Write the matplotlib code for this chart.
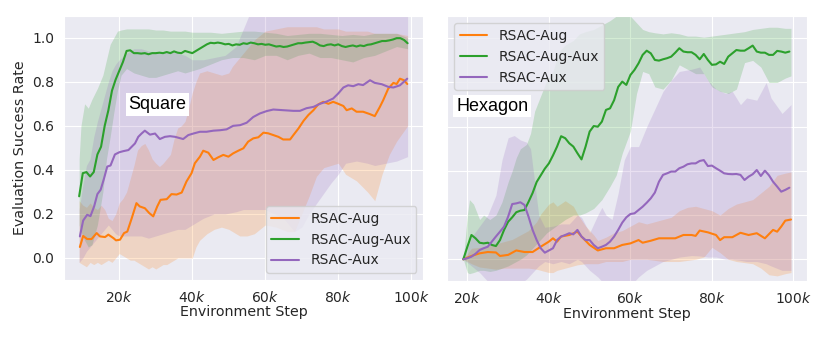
import matplotlib
matplotlib.use("Agg")
import matplotlib.pyplot as plt
import seaborn as sns
from matplotlib.ticker import FuncFormatter, FixedLocator

sns.set_style("darkgrid")
plt.rcParams['font.family'] = ['DejaVu Sans']

labels = ["RSAC-Aug", "RSAC-Aug-Aux", "RSAC-Aux"]
colors = ["#ff7f0e", "#2ca02c", "#9467bd"]
x_ticks = [20, 40, 60, 80, 100]
y_ticks = [0.0, 0.2, 0.4, 0.6, 0.8, 1.0]

# ---------------- Square (left) ----------------
sq_aug_x = [9.2, 10.1, 11.2, 12.4, 13.8, 14.7, 16.1, 17, 18.4, 19.1, 20.2, 21.3, 22.2, 23.4, 24.7, 25.6,
            27, 28.2, 29.3, 30.4, 31.3, 33, 34.3, 35.7, 37.1, 38.4, 39.8, 40.7, 42.1, 43, 44.4, 45.8,
            47.1, 48.5, 49.9, 51.2, 52.6, 54, 55.3, 56.7, 58.1, 59.5, 60.8, 62.2, 63.6, 64.9, 66.8,
            67.7, 69.1, 70.5, 71.8, 73.2, 74.5, 75.9, 77.3, 78.6, 80, 81.4, 82.3, 83.7, 85, 86.8,
            88.7, 90, 91.4, 92.3, 93.7, 95.1, 96, 96.9, 98, 98.9]
sq_aug_y = [0.05, 0.10, 0.086, 0.086, 0.113, 0.098, 0.095, 0.106, 0.09, 0.08, 0.083, 0.113, 0.12, 0.18,
            0.249, 0.234, 0.226, 0.204, 0.189, 0.234, 0.264, 0.267, 0.29, 0.288, 0.297, 0.347, 0.385,
            0.43, 0.46, 0.487, 0.478, 0.445, 0.457, 0.468, 0.46, 0.475, 0.487, 0.498, 0.528, 0.543,
            0.548, 0.569, 0.566, 0.558, 0.55, 0.538, 0.538, 0.558, 0.588, 0.623, 0.649, 0.671, 0.697,
            0.709, 0.70, 0.709, 0.70, 0.69, 0.671, 0.679, 0.664, 0.664, 0.653, 0.644, 0.686, 0.716,
            0.769, 0.795, 0.79, 0.814, 0.807, 0.79]

sq_augaux_x = list(range(9, 100))
sq_augaux_y = [0.28, 0.385, 0.39, 0.37, 0.39, 0.47, 0.505, 0.60, 0.67, 0.76, 0.81, 0.85, 0.89, 0.94,
               0.943, 0.93, 0.93, 0.928, 0.93, 0.925, 0.93, 0.93, 0.932, 0.93, 0.935, 0.93, 0.938,
               0.932, 0.93, 0.94, 0.935, 0.93, 0.94, 0.95, 0.96, 0.97, 0.977, 0.975, 0.978, 0.975,
               0.97, 0.972, 0.965, 0.97, 0.968, 0.975, 0.972, 0.978, 0.975, 0.97, 0.972, 0.968, 0.97,
               0.965, 0.96, 0.962, 0.958, 0.96, 0.965, 0.97, 0.975, 0.975, 0.978, 0.98, 0.982, 0.975,
               0.965, 0.962, 0.968, 0.97, 0.965, 0.97, 0.962, 0.958, 0.962, 0.965, 0.96, 0.965,
               0.962, 0.968, 0.97, 0.975, 0.98, 0.985, 0.985, 0.988, 0.992, 0.998, 0.998, 0.99, 0.975]

sq_aux_x = [9.2, 10.1, 11.2, 12.1, 13.1, 14, 14.9, 15.8, 16.7, 17.6, 18.8, 20, 21.1, 22.5, 23.4, 24.3,
            25.2, 26.1, 27, 28.4, 29.8, 31.1, 32.5, 33.9, 35.3, 37.5, 38.9, 40.3, 42.1, 43.9, 45.8,
            47.6, 49.4, 51.2, 53.1, 54.9, 56.7, 58.5, 60.4, 62.2, 64.9, 67.7, 69.5, 71.3, 73.2, 75,
            76.8, 78.6, 80, 81.4, 82.7, 84.1, 85.5, 86.8, 88.7, 90, 91.9, 93.7, 95.1, 96.9, 98.9]
sq_aux_y = [0.098, 0.17, 0.196, 0.19, 0.234, 0.29, 0.31, 0.36, 0.415, 0.42, 0.47, 0.48, 0.485, 0.49,
            0.505, 0.52, 0.55, 0.565, 0.578, 0.56, 0.565, 0.54, 0.55, 0.553, 0.55, 0.54, 0.558, 0.565,
            0.573, 0.573, 0.578, 0.58, 0.584, 0.6, 0.603, 0.614, 0.64, 0.656, 0.667, 0.674, 0.671,
            0.668, 0.668, 0.68, 0.686, 0.70, 0.71, 0.724, 0.747, 0.774, 0.784, 0.78, 0.789, 0.785,
            0.807, 0.795, 0.789, 0.777, 0.774, 0.784, 0.814]

# bands (x, lower, upper)
sq_aug_bx = [9, 10, 11, 12, 13, 14, 15, 16, 17, 18, 19, 20, 21, 22, 23, 24, 25, 26, 27, 28, 29, 30, 31,
             32, 33, 34, 35, 36, 37, 38, 39, 40, 41, 42, 44, 46, 48, 50, 51, 53, 55, 57, 60, 63, 66,
             68, 70, 72, 74, 76, 78, 80, 82, 85, 88, 90, 92, 94, 96, 99]
sq_aug_lo = [-0.02, -0.03, -0.04, -0.02, -0.03, -0.02, -0.03, -0.02, -0.01, -0.02, 0.0, 0.02, 0.01, 0.0,
             -0.01, -0.01, -0.02, -0.03, -0.04, -0.05, -0.04, -0.05, -0.04, -0.03, -0.03, -0.02,
             -0.01, 0.0, 0.0, 0.0, 0.0, 0.0, 0.05, 0.08, 0.11, 0.13, 0.14, 0.13, 0.12, 0.10, 0.10,
             0.11, 0.15, 0.14, 0.12, 0.12, 0.2, 0.28, 0.37, 0.41, 0.42, 0.43, 0.38, 0.35, 0.30, 0.26,
             0.38, 0.47, 0.53, 0.60]
sq_aug_hi = [0.26, 0.24, 0.23, 0.25, 0.23, 0.22, 0.24, 0.22, 0.18, 0.17, 0.2, 0.25, 0.27, 0.3, 0.36,
             0.42, 0.49, 0.51, 0.52, 0.49, 0.45, 0.43, 0.415, 0.43, 0.45, 0.47, 0.54, 0.59, 0.6,
             0.62, 0.68, 0.75, 0.8, 0.84, 0.85, 0.84, 0.83, 0.84, 0.87, 0.91, 0.95, 0.99, 1.03, 1.04,
             1.05, 1.05, 1.05, 1.05, 1.05, 1.04, 1.04, 1.04, 1.03, 1.03, 1.03, 1.02, 1.02, 1.02,
             1.02, 1.01]

sq_augaux_bx = [9, 9.5, 10.5, 11.5, 12.5, 14, 15.5, 16.5, 17.5, 18.5, 19.5, 20.5, 22, 24, 26, 28, 30,
                32, 34, 36, 38, 40, 42, 45, 48, 51, 54, 57, 60, 63, 66, 69, 72, 75, 78, 81, 84, 87,
                90, 93, 96, 99]
sq_augaux_lo = [0.15, 0.12, 0.08, 0.05, 0.06, 0.15, 0.3, 0.45, 0.55, 0.66, 0.76, 0.83, 0.86, 0.84,
                0.83, 0.82, 0.82, 0.83, 0.84, 0.85, 0.84, 0.85, 0.86, 0.88, 0.90, 0.91, 0.91, 0.90,
                0.92, 0.92, 0.90, 0.92, 0.93, 0.91, 0.91, 0.90, 0.89, 0.91, 0.92, 0.94, 0.96, 0.95]
sq_augaux_hi = [0.45, 0.6, 0.7, 0.68, 0.72, 0.77, 0.83, 0.9, 0.97, 1.0, 1.03, 1.035, 1.04, 1.04, 1.04,
                1.04, 1.035, 1.035, 1.03, 1.03, 1.03, 1.025, 1.025, 1.025, 1.02, 1.025, 1.03, 1.03,
                1.025, 1.02, 1.01, 1.015, 1.02, 1.02, 1.015, 1.01, 1.015, 1.01, 1.02, 1.02, 1.02, 1.0]

sq_aux_bx = [9, 10, 11, 12, 13, 14, 15, 16, 17, 18, 19, 20, 22, 24, 26, 28, 30, 32, 34, 36, 38, 40,
             43, 46, 49, 52, 54, 56, 60, 65, 68, 70, 72, 75, 78, 80, 82, 85, 88, 90, 93, 96, 99]
sq_aux_lo = [-0.02, 0.0, 0.03, 0.05, 0.07, 0.09, 0.11, 0.13, 0.15, 0.13, 0.11, 0.1, 0.1, 0.1, 0.1,
             0.09, 0.1, 0.11, 0.12, 0.13, 0.13, 0.15, 0.18, 0.2, 0.2, 0.21, 0.22, 0.22, 0.22, 0.18,
             0.12, 0.14, 0.2, 0.27, 0.34, 0.38, 0.43, 0.44, 0.43, 0.42, 0.43, 0.44, 0.46]
sq_aux_hi = [0.22, 0.33, 0.42, 0.45, 0.55, 0.62, 0.68, 0.74, 0.8, 0.85, 0.88, 0.9, 0.93, 0.95, 0.95,
             0.94, 0.93, 0.93, 0.94, 0.93, 0.92, 0.9, 0.9, 0.91, 0.92, 0.96, 1.04, 1.12, 1.15, 1.15,
             1.15, 1.15, 1.15, 1.15, 1.15, 1.15, 1.15, 1.15, 1.15, 1.15, 1.15, 1.15, 1.15]

# ---------------- Hexagon (right) ----------------
hx_aug_x = [19, 21, 23, 25, 27, 28, 30, 32, 34, 36, 38, 40, 41, 42, 43, 45, 47, 48, 50, 52, 54, 56, 58,
            60, 62, 63, 65, 67, 69, 71, 73, 75, 76, 77, 79, 81, 82, 83, 85, 87, 89, 91, 93, 95, 96,
            97, 98, 99.4]
hx_aug_y = [0.0, 0.015, 0.027, 0.033, 0.031, 0.015, 0.02, 0.04, 0.033, 0.033, 0.057, 0.08, 0.095,
            0.08, 0.103, 0.11, 0.125, 0.103, 0.065, 0.04, 0.05, 0.05, 0.065, 0.072, 0.087, 0.075,
            0.084, 0.095, 0.095, 0.095, 0.11, 0.11, 0.106, 0.13, 0.122, 0.11, 0.087, 0.1, 0.1, 0.12,
            0.11, 0.118, 0.095, 0.133, 0.125, 0.148, 0.175, 0.18]

hx_augaux_x = list(range(19, 100))
hx_augaux_y = [0.0, 0.057, 0.11, 0.095, 0.075, 0.072, 0.075, 0.065, 0.06, 0.087, 0.133, 0.17, 0.19,
               0.213, 0.22, 0.223, 0.26, 0.3, 0.35, 0.38, 0.41, 0.434, 0.47, 0.51, 0.557, 0.548,
               0.525, 0.51, 0.48, 0.452, 0.51, 0.578, 0.603, 0.6, 0.623, 0.676, 0.683, 0.72, 0.78,
               0.804, 0.789, 0.834, 0.857, 0.887, 0.925, 0.944, 0.932, 0.902, 0.899, 0.905, 0.91,
               0.917, 0.935, 0.955, 0.94, 0.937, 0.937, 0.925, 0.905, 0.929, 0.902, 0.88, 0.882,
               0.894, 0.884, 0.917, 0.932, 0.947, 0.944, 0.944, 0.955, 0.967, 0.94, 0.935, 0.935,
               0.925, 0.925, 0.943, 0.94, 0.935, 0.94]

hx_aux_x = list(range(19, 100))
hx_aux_y = [0.0, 0.005, 0.012, 0.025, 0.042, 0.05, 0.057, 0.08, 0.103, 0.125, 0.148, 0.193, 0.25,
            0.253, 0.258, 0.246, 0.193, 0.133, 0.087, 0.05, 0.03, 0.04, 0.05, 0.087, 0.103, 0.11,
            0.118, 0.113, 0.133, 0.103, 0.087, 0.087, 0.065, 0.05, 0.057, 0.065, 0.08, 0.103, 0.133,
            0.166, 0.19, 0.205, 0.208, 0.223, 0.238, 0.256, 0.276, 0.302, 0.351, 0.382, 0.389, 0.397,
            0.397, 0.412, 0.419, 0.43, 0.434, 0.434, 0.445, 0.449, 0.422, 0.424, 0.412, 0.401, 0.389,
            0.386, 0.385, 0.386, 0.382, 0.359, 0.374, 0.385, 0.404, 0.377, 0.401, 0.38, 0.351,
            0.329, 0.306, 0.314, 0.324]

hx_aug_bx = [19, 21, 23, 25, 27, 29, 31, 33, 35, 37, 38, 40, 41, 42, 44, 46, 47, 49, 51, 52, 54, 56,
             58, 60, 62, 64, 66, 68, 70, 72, 74, 76, 78, 80, 82, 84, 86, 88, 90, 92, 94, 96, 98, 99.4]
hx_aug_lo = [0.0, -0.02, -0.035, -0.04, -0.045, -0.04, -0.04, -0.04, -0.04, -0.045, -0.05, -0.06,
             -0.06, -0.05, -0.04, -0.03, -0.025, -0.02, -0.02, -0.02, -0.01, -0.01, -0.01, 0.0,
             0.0, 0.0, -0.005, -0.01, -0.01, -0.01, -0.005, 0.0, 0.01, 0.054, 0.03, 0.0, -0.01,
             -0.015, -0.02, -0.04, -0.07, -0.075, -0.065, -0.06]
hx_aug_hi = [0.0, 0.05, 0.054, 0.06, 0.07, 0.08, 0.09, 0.11, 0.13, 0.17, 0.205, 0.25, 0.26, 0.24,
             0.265, 0.24, 0.205, 0.15, 0.11, 0.085, 0.1, 0.12, 0.13, 0.15, 0.17, 0.16, 0.17, 0.18,
             0.19, 0.22, 0.235, 0.24, 0.23, 0.22, 0.2, 0.23, 0.25, 0.26, 0.27, 0.3, 0.33, 0.38,
             0.39, 0.395]

hx_augaux_bx = [19, 20, 20.5, 21.5, 23, 24, 25.5, 27, 28.5, 30, 31, 32, 33, 34.5, 35.5, 36.5, 38,
                39.5, 41, 42.5, 44, 46, 47.5, 49, 51, 53, 55, 56.5, 58, 60, 61.5, 63, 64.5, 66, 68,
                70, 72, 74, 76, 78, 80, 82, 84, 86, 88, 90, 92, 94, 96, 98, 99.4]
hx_augaux_lo = [0.0, -0.06, -0.065, -0.06, -0.05, -0.05, -0.055, -0.05, -0.04, -0.03, -0.02, -0.01,
                0.0, 0.02, 0.04, 0.06, 0.09, 0.12, 0.14, 0.16, 0.18, 0.2, 0.2, 0.21, 0.23, 0.27,
                0.33, 0.38, 0.48, 0.58, 0.75, 0.85, 0.84, 0.78, 0.77, 0.81, 0.88, 0.86, 0.84, 0.84,
                0.78, 0.76, 0.75, 0.77, 0.89, 0.9, 0.87, 0.8, 0.8, 0.82, 0.83]
hx_augaux_hi = [0.0, 0.2, 0.27, 0.25, 0.18, 0.2, 0.18, 0.2, 0.26, 0.35, 0.4, 0.46, 0.5, 0.52, 0.57,
                0.67, 0.74, 0.81, 0.85, 0.94, 0.97, 0.99, 1.02, 1.03, 1.04, 1.06, 1.08, 1.1, 1.12,
                1.1, 1.07, 1.04, 1.03, 1.025, 1.02, 1.025, 1.02, 1.01, 1.01, 1.005, 1.01, 1.015,
                1.02, 1.025, 1.03, 1.04, 1.045, 1.05, 1.05, 1.045, 1.045]

hx_aux_bx = [19, 21, 23, 25, 27, 28.5, 30, 31.5, 33, 34.5, 35.5, 36.5, 37.5, 39, 41, 43, 45, 47, 48,
             50, 52, 53, 54, 55.5, 57, 58.5, 60, 62, 64, 66, 68, 70, 72, 75, 77, 79, 81, 83.4, 85,
             87, 88.5, 91, 93.3, 94.5, 97.2, 99.4]
hx_aux_lo = [0.0, -0.03, -0.06, -0.1, -0.12, -0.12, -0.12, -0.12, -0.11, -0.09, -0.07, -0.05, -0.03,
             -0.01, -0.02, -0.01, -0.02, 0.0, -0.01, -0.05, -0.08, -0.1, -0.11, -0.12, -0.12, -0.12,
             -0.12, -0.08, -0.05, -0.03, -0.01, 0.0, 0.01, 0.017, 0.015, 0.01, 0.01, 0.0, 0.0,
             -0.005, -0.01, -0.01, -0.02, -0.03, -0.05, -0.05]
hx_aux_hi = [0.0, 0.1, 0.15, 0.2, 0.29, 0.45, 0.55, 0.56, 0.54, 0.53, 0.5, 0.35, 0.2, 0.145, 0.15,
             0.16, 0.16, 0.2, 0.19, 0.12, 0.2, 0.235, 0.2, 0.18, 0.3, 0.45, 0.51, 0.51, 0.6, 0.68,
             0.76, 0.81, 0.85, 0.86, 0.87, 0.81, 0.77, 0.75, 0.76, 0.7, 0.73, 0.72, 0.8, 0.73,
             0.66, 0.70]

W, H = 830, 337
fig = plt.figure(figsize=(W / 100, H / 100), dpi=100)


def rect(l, t, r, b):
    return [l / W, 1 - b / H, (r - l) / W, (b - t) / H]


ax1 = fig.add_axes(rect(64, 15.7, 423.3, 280))
ax2 = fig.add_axes(rect(447, 16.2, 807.3, 281.4))

panels = [
    (ax1, [(sq_aug_x, sq_aug_y, sq_aug_bx, sq_aug_lo, sq_aug_hi),
           (sq_augaux_x, sq_augaux_y, sq_augaux_bx, sq_augaux_lo, sq_augaux_hi),
           (sq_aux_x, sq_aux_y, sq_aux_bx, sq_aux_lo, sq_aux_hi)], (4.85, 103.3), "Square",
     (0.179, 0.664), "lower right"),
    (ax2, [(hx_aug_x, hx_aug_y, hx_aug_bx, hx_aug_lo, hx_aug_hi),
           (hx_augaux_x, hx_augaux_y, hx_augaux_bx, hx_augaux_lo, hx_augaux_hi),
           (hx_aux_x, hx_aux_y, hx_aux_bx, hx_aux_lo, hx_aux_hi)], (15.0, 103.4), "Hexagon",
     (0.025, 0.661), "upper left"),
]

fmt = FuncFormatter(lambda v, p: r"$%dk$" % int(round(v)))

for ax, series, xl, name, tpos, lloc in panels:
    for (x, y, bx, lo, hi), c in zip(series, colors):
        ax.fill_between(bx, lo, hi, color=c, alpha=0.2, linewidth=0)
    for (x, y, bx, lo, hi), c, lab in zip(series, colors, labels):
        ax.plot(x, y, color=c, lw=1.5, label=lab)
    ax.set_xlim(*xl)
    ax.set_ylim(-0.1, 1.1)
    ax.xaxis.set_major_locator(FixedLocator(x_ticks))
    ax.xaxis.set_major_formatter(fmt)
    ax.yaxis.set_major_locator(FixedLocator(y_ticks))
    ax.tick_params(labelsize=10, colors="#262626")
    ax.set_xlabel("Environment Step", fontsize=10.3, color="#262626", labelpad=0.5)
    ax.text(tpos[0], tpos[1], name, transform=ax.transAxes, fontsize=13, family="Liberation Sans",
            va="center", ha="left", color="black",
            bbox=dict(facecolor="white", edgecolor="none", pad=2))
    ax.legend(loc=lloc, fontsize=10)

ax1.yaxis.set_major_formatter(FuncFormatter(lambda v, p: "%.1f" % v))
ax1.set_ylabel("Evaluation Success Rate", fontsize=10.3, color="#262626")
ax2.set_yticklabels([])

fig.savefig("out.png", dpi=100)
